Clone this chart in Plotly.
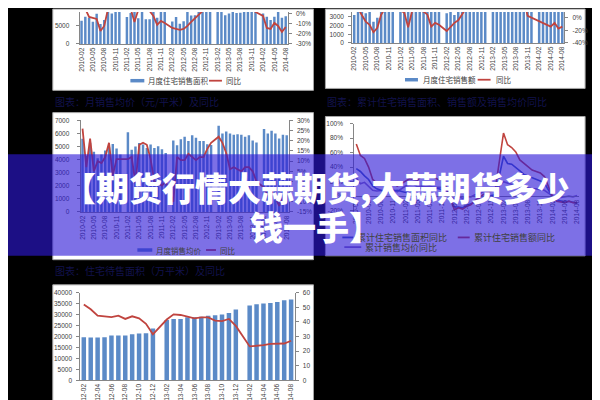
import plotly.graph_objects as go

W, H = 600, 400


def fx(x):
    return x / W


def fy(y):
    return 1 - y / H


def month_range(y0, m0, y1, m1):
    out = []
    y, m = y0, m0
    while (y, m) <= (y1, m1):
        out.append(f"{y}-{m:02d}")
        m += 1
        if m > 12:
            m = 1
            y += 1
    return out


# ---------------- categories ----------------
months = month_range(2010, 2, 2014, 8)          # 55 monthly categories (January left empty)
months_stock = month_range(2012, 2, 2014, 8)    # 31 monthly categories
tick_quarter = months[::3]
tick_stock = months_stock[::2]

# ---------------- chart 1: 月度住宅销售面积 + 同比 ----------------
area_monthly = [
    6300, 7400, 7100, 6050, 8200, 5400, 6500, 9500, 8300, 9800, 14000,
    None, 7300, 8400, 9000, 7000, 11000, 6700, 6700, 9200, 7100, 8800, 14500,
    None, 6100, 7300, 5500, 6200, 9800, 7700, 7800, 10000, 8900, 10000, 15500,
    None, 9000, 10500, 7800, 8300, 11000, 8400, 8500, 11500, 8800, 10500, 16000,
    None, 8300, 7400, 6500, 7400, 11000, 7100, 7500]
area_yoy = [
    35, 5, -3, -4, -5, -17, -12, 5, 10, 12, 8,
    None, 3, 5, -8, 4, 6, 4, 3, -2, -11, -7, -9,
    None, -14, -15, -16, -15, -12, -8, -4, -1, 3, 8, 10,
    None, 30, 40, 25, 28, 20, 18, 15, 12, 18, 15, 2,
    None, -2, -14, -15, -9, -12, -18, -13]

# ---------------- chart 2: 月度住宅销售额 + 同比 ----------------
value_monthly = [
    3200, 4000, 3900, 3400, 5300, 2450, 2900, 4700, 4200, 5000, 8000,
    None, 4000, 4800, 4200, 4100, 6500, 4000, 3900, 5500, 4300, 5200, 8800,
    None, 3400, 4000, 3200, 3600, 5800, 4500, 4600, 6200, 5100, 6200, 9500,
    None, 5400, 6300, 4900, 5500, 7000, 5300, 5400, 7200, 5900, 6800, 10500,
    None, 5000, 5400, 4400, 5100, 7200, 4700, 5000]
value_yoy = [
    30, 15, 4, -6, -11, -23, -16, 5, 15, 20, 12,
    None, 12, 8, -15, 10, 15, 12, 10, 5, -14, -8, -11,
    None, -21, -14, -8, -4, 5, 15, 18, 20, 25, 30, 30,
    None, 60, 80, 35, 40, 25, 30, 28, 25, 30, 3, 0,
    None, -5, -8, -12, -14, -8, -17, -14]

# ---------------- chart 3: 月度销售均价 + 同比 ----------------
price_monthly = [
    5600, 4300, 5300, 4600, 4100, 4400, 4700, 4950, 5200, 4850, 4400,
    None, 6100, 4750, 5000, 5270, 5150, 4900, 5150, 4900, 5030, 4800, 4500,
    None, 5470, 5100, 5570, 5760, 5420, 5860, 5670, 5420, 5420, 5170, 5120,
    None, 6600, 6000, 6160, 6000, 5900, 5940, 5910, 5760, 5860, 5470, 5320,
    None, 6350, 6000, 6210, 6000, 5620, 5900, 5860]
price_yoy = [
    26, 7, 21, 5, 10, 9, 12, 19, 3, 11, 11,
    None, 11, 12, -1, 18, 19, 18, 11, 0, -1, -2, 0,
    None, -10, 12, 10.5, 10.5, 13.6, 12, 10.5, 12, 12, 16, 19,
    None, 22, 19, 14, 6, 7, 6, 5, 7, 7, 5, 0,
    None, -3, -7, -5, -8, -12, -8, -10]

# ---------------- chart 4: 累计同比 ----------------
cum_area_yoy = [
    38, 34, 28, 23, 14, 10, 8, 6, 6, 7, 8,
    None, 5, 8, 6, 8, 12, 11, 10, 12, 10, 9, 4,
    None, -15, -15, -16, -13, -11, -8, -6, -4, -2, 1, 2,
    None, 55, 45, 44, 40, 35, 30, 28, 25, 23, 21, 18,
    None, -1, -5, -6, -8, -7, -8, -10]
cum_value_yoy = [
    72, 56, 52, 40, 23, 18, 16, 15, 16, 17, 14,
    None, 20, 24, 23, 22, 28, 26, 26, 26, 23, 22, 12,
    None, -19, -16, -18, -14, -12, -6, -3, 2, 5, 8, 10,
    None, 87, 71, 67, 61, 50, 45, 40, 36, 34, 32, 27,
    None, -1, -7, -8, -9, -7, -9, -9]
cum_price_yoy = [
    25, 17, 19, 14, 8, 7, 7, 8, 9, 9, 6,
    None, 14, 15, 16, 13, 14, 13, 14, 12, 12, 12, 8,
    None, -5, -1, -3, -1, -1, 2, 3, 6, 7, 7, 8,
    None, 20, 18, 16, 15, 12, 13, 11, 10, 10, 9, 8,
    None, 0, -2, -2, -1, 0, -1, 1]

# ---------------- chart 5: 住宅待售面积 + 同比 ----------------
stock_area = [19700, 19500, 19500, 19700, 20400, 20400, 20400, 21000, 21400, 21500, 23600,
              None, 27500, 28000, 28000, 28800, 28800, 29000, 29400, 29700, 30000, 30700, 32300,
              None, 34100, 34700, 35000, 35300, 35700, 36500, 36900]
stock_yoy = [51.9, 48.6, 44.2, 43.8, 43.3, 44.2, 42.0, 43.8, 42.4, 38.7, 31.5,
             None, 41.6, 45.1, 44.7, 43.3, 42.4, 43.1, 43.1, 40.9, 40.5, 42.0, 37.2,
             None, 23.2, 23.4, 24.1, 24.9, 24.9, 25.2, 27.1]

# ---------------- axis tick values ----------------
c1_left_ticks = [0, 5000]
c1_right_ticks = [-30, -20, -10, 0]
c2_left_ticks = [0, 1000, 2000, 3000]
c2_right_ticks = [-40, -20, 0]
c3_left_ticks = [0, 1000, 2000, 3000, 4000, 5000, 6000, 7000]
c3_right_ticks = [-15, -10, -5, 0, 5, 10, 15, 20, 25, 30]
c4_ticks = [-20, 0, 20, 40, 60, 80, 100]
c5_left_ticks = [0, 5000, 10000, 15000, 20000, 25000, 30000, 35000, 40000]
c5_right_ticks = [0, 10, 20, 30, 40, 50, 60]

# ---------------- text ----------------
captions = ["图表：月销售均价（元/平米）及同比",
            "图表：累计住宅销售面积、销售额及销售均价同比",
            "图表：住宅待售面积（万平米）及同比"]
banner_lines = ["【期货行情大蒜期货,大蒜期货多少", "钱一手】"]

BAR = "#5B8AC7"
RED = "#C0443F"
BLUE = "#3F5FBF"
PURPLE = "#8A73C0"
AXC = "#868686"
TXT = "#404040"
TICKFONT = dict(family="Liberation Sans, Arial, sans-serif", size=6.5, color=TXT)
XTICKFONT = dict(family="Liberation Sans, Arial, sans-serif", size=6.6, color=TXT)
CJK = "Noto Sans CJK SC"

fig = go.Figure()

# chart 1
fig.add_trace(go.Bar(x=months, y=area_monthly, xaxis="x", yaxis="y", marker_color=BAR,
                     marker_line_width=0, name="月度住宅销售面积"))
fig.add_trace(go.Scatter(x=months, y=area_yoy, xaxis="x", yaxis="y2", mode="lines",
                         line=dict(color=RED, width=1.8), connectgaps=True, name="同比"))
# chart 2
fig.add_trace(go.Bar(x=months, y=value_monthly, xaxis="x2", yaxis="y3", marker_color=BAR,
                     marker_line_width=0, name="月度住宅销售额"))
fig.add_trace(go.Scatter(x=months, y=value_yoy, xaxis="x2", yaxis="y4", mode="lines",
                         line=dict(color=RED, width=1.8), connectgaps=True, name="同比"))
# chart 3
fig.add_trace(go.Bar(x=months, y=price_monthly, xaxis="x3", yaxis="y5", marker_color=BAR,
                     marker_line_width=0, name="月度销售均价"))
fig.add_trace(go.Scatter(x=months, y=price_yoy, xaxis="x3", yaxis="y6", mode="lines",
                         line=dict(color=RED, width=1.8), connectgaps=True, name="同比"))
# chart 4
fig.add_trace(go.Scatter(x=months, y=cum_price_yoy, xaxis="x4", yaxis="y7", mode="lines",
                         line=dict(color=PURPLE, width=1.6), connectgaps=True, name="累计销售均价同比"))
fig.add_trace(go.Scatter(x=months, y=cum_area_yoy, xaxis="x4", yaxis="y7", mode="lines",
                         line=dict(color=BLUE, width=1.6), connectgaps=True, name="累计住宅销售面积同比"))
fig.add_trace(go.Scatter(x=months, y=cum_value_yoy, xaxis="x4", yaxis="y7", mode="lines",
                         line=dict(color=RED, width=1.6), connectgaps=True, name="累计住宅销售额同比"))
# chart 5
fig.add_trace(go.Bar(x=months_stock, y=stock_area, xaxis="x5", yaxis="y8", marker_color=BAR,
                     marker_line_width=0, name="住宅待售面积"))
fig.add_trace(go.Scatter(x=months_stock, y=stock_yoy, xaxis="x5", yaxis="y9", mode="lines",
                         line=dict(color=RED, width=1.8), connectgaps=True, name="同比"))


def xax(dom, cats, ticks, anchor, **kw):
    d = dict(domain=[fx(dom[0]), fx(dom[1])], type="category", categoryorder="array",
             categoryarray=cats, range=[-0.5, len(cats) - 0.5], tickvals=ticks, ticktext=ticks,
             tickangle=-90, tickfont=XTICKFONT, ticks="", showgrid=False, zeroline=False,
             showline=True, linecolor=AXC, linewidth=1, anchor=anchor, fixedrange=True)
    d.update(kw)
    return d


def yax(dom, rng, vals, anchor, suffix="", side="left", overlay=None, standoff=3):
    d = dict(range=rng, tickmode="array", tickvals=vals,
             ticktext=[f"{v}{suffix}" for v in vals], side=side, anchor=anchor,
             tickfont=TICKFONT, ticks="outside", ticklen=3, tickcolor=AXC, showgrid=False,
             zeroline=False, showline=True, linecolor=AXC, linewidth=1,
             ticklabelstandoff=standoff, fixedrange=True)
    if overlay:
        d["overlaying"] = overlay
    else:
        d["domain"] = [fy(dom[1]), fy(dom[0])]
    return d


# chart 4 x axis sits on the 0% line
c4_dom = (115.3, 205.3)
c4_rng = [-20, 100.1]
c4_d0, c4_d1 = fy(c4_dom[1]), fy(c4_dom[0])
c4_zero = c4_d0 + (0 - c4_rng[0]) / (c4_rng[1] - c4_rng[0]) * (c4_d1 - c4_d0)

fig.update_layout(
    width=W, height=H, margin=dict(l=0, r=0, t=0, b=0),
    paper_bgcolor="black", plot_bgcolor="rgba(0,0,0,0)", showlegend=False,
    bargap=0.35,
    xaxis=xax((70, 279), months, tick_quarter, "y"),
    yaxis=yax((0, 33), [0, 5000 * 33 / 19], c1_left_ticks, "x", standoff=5),
    yaxis2=yax(None, [-30, -30 + 33 / 1.033], c1_right_ticks, "x", "%", "right", "y"),
    xaxis2=xax((344, 557), months, tick_quarter, "y3"),
    yaxis3=yax((0, 32), [0, 32 / 9 * 1000], c2_left_ticks, "x2"),
    yaxis4=yax(None, [-40, -40 + 32 * 20 / 13], c2_right_ticks, "x2", "%", "right", "y3"),
    xaxis3=xax((71, 280), months, tick_quarter, "y5"),
    yaxis5=yax((112, 206.7), [0, 7005], c3_left_ticks, "x3", standoff=6),
    yaxis6=yax(None, [-15, 30.02], c3_right_ticks, "x3", "%", "right", "y5"),
    xaxis4=xax((346, 572), months, tick_quarter, "free", position=c4_zero),
    yaxis7=yax(c4_dom, c4_rng, c4_ticks, "x4", "%", standoff=6),
    xaxis5=xax((70.7, 286), months_stock, tick_stock, "y8"),
    yaxis8=yax((290, 380.7), [0, 40020], c5_left_ticks, "x5"),
    yaxis9=yax(None, [0, 60.03], c5_right_ticks, "x5", "", "right", "y8"),
)

shapes = []
# white chart panels
for (x0, y0, x1, y1) in [(43, -3, 305, 81), (317, -3, 578, 79), (43, 104, 305, 256),
                         (317, 108, 578, 252), (43, 282, 305, 403)]:
    shapes.append(dict(type="rect", xref="paper", yref="paper", x0=fx(x0), x1=fx(x1),
                       y0=fy(y1), y1=fy(y0), fillcolor="white",
                       line=dict(color="#A6A6A6", width=1), layer="below"))


def bar_swatch(x0, x1, y):
    shapes.append(dict(type="rect", xref="paper", yref="paper", x0=fx(x0), x1=fx(x1),
                       y0=fy(y + 1.8), y1=fy(y - 1.8), fillcolor=BAR, line=dict(width=0),
                       layer="above"))


def line_swatch(x0, x1, y, color):
    shapes.append(dict(type="line", xref="paper", yref="paper", x0=fx(x0), x1=fx(x1),
                       y0=fy(y), y1=fy(y), line=dict(color=color, width=1.8), layer="above"))


annotations = []


def label(text, x, y, size=7.5, color=TXT):
    annotations.append(dict(text=text, x=fx(x), y=fy(y), xref="paper", yref="paper",
                            xanchor="left", yanchor="middle", showarrow=False,
                            font=dict(family=CJK, size=size, color=color)))


# legends
bar_swatch(121, 135, 71); label("月度住宅销售面积", 137, 71)
line_swatch(200, 213, 71, RED); label("同比", 215, 71)
bar_swatch(397, 410, 70); label("月度住宅销售额", 413, 70)
line_swatch(470, 483, 70, RED); label("同比", 486, 70)
bar_swatch(128, 143, 246); label("月度销售均价", 145, 246)
line_swatch(197, 207, 246, RED); label("同比", 209, 246)
line_swatch(334, 345, 233, BLUE); label("累计住宅销售面积同比", 347, 233, size=9)
line_swatch(450, 462, 233, RED); label("累计住宅销售额同比", 464, 233, size=9)
line_swatch(336, 353, 243, PURPLE); label("累计销售均价同比", 355, 243, size=9)

# captions (dark navy on black)
CAP = "#12124C"
label(captions[0], 43, 92, size=10, color=CAP)
label(captions[1], 317, 92, size=10, color=CAP)
label(captions[2], 43, 267, size=10, color=CAP)

# purple translucent banner
shapes.append(dict(type="rect", xref="paper", yref="paper", x0=-0.01, x1=1.01,
                   y0=fy(252), y1=fy(147), fillcolor="rgba(45,25,215,0.62)",
                   line=dict(width=0), layer="above"))

for txt, yy in zip(banner_lines, [181, 221]):
    annotations.append(dict(text=txt, x=fx(308), y=fy(yy), xref="paper", yref="paper",
                            xanchor="center", yanchor="middle", showarrow=False,
                            font=dict(family=CJK, size=33, color="white", weight=900)))

fig.update_layout(shapes=shapes, annotations=annotations)
fig.write_html("out.html")
